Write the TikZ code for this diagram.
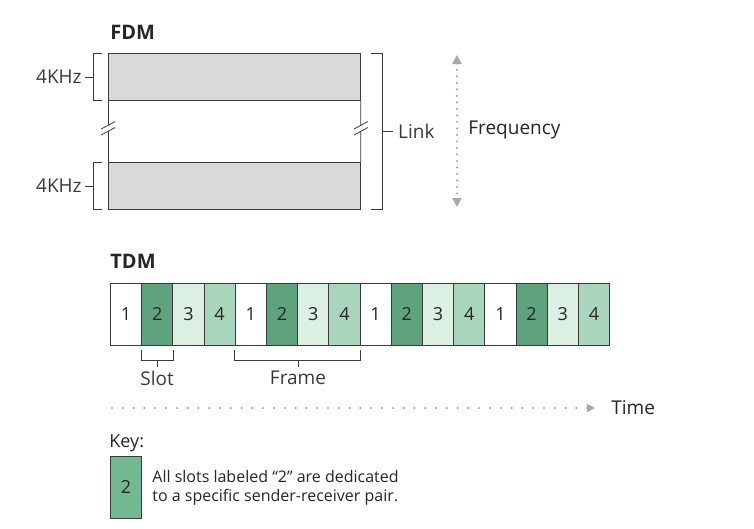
\documentclass[tikz,border=0pt]{standalone}
\usepackage{fontspec}
\setmainfont{Open Sans}
\usetikzlibrary{positioning,calc,arrows.meta}

\definecolor{linegray}{HTML}{3A3A3A}
\definecolor{bandgray}{HTML}{D9D9D9}
\definecolor{dotgray}{HTML}{A8A8A8}
\definecolor{gdark}{HTML}{5FA27E}
\definecolor{glight}{HTML}{DCEFE3}
\definecolor{gmid}{HTML}{A9D5BD}
\definecolor{gkey}{HTML}{72B890}

\tikzset{
  band/.style={draw=linegray,fill=bandgray,minimum width=252pt,minimum height=47pt,anchor=north west},
  slotbox/.style={draw=linegray,minimum width=31.2pt,minimum height=62pt,anchor=north west,
    font=\fontsize{18}{18}\selectfont},
  dotline/.style={dotgray,line width=2.4pt,line cap=round,dash pattern=on 0pt off 6.5pt},
  tip/.style={-{Triangle[length=8pt,width=8pt]}},
  heading/.style={anchor=base west,font=\bfseries\fontsize{20}{20}\selectfont},
}

\begin{document}
\begin{tikzpicture}[x=1pt,y=-1pt,every node/.style={inner sep=0pt},line width=.8pt,
  font=\fontsize{19}{19}\selectfont,color=black!85]
  \useasboundingbox (0,0) rectangle (754,528);

  % FDM
  \node[heading] at (110,39) (fdm) {FDM};
  \node[band] at (108,53)  (hi) {};
  \node[band] at (108,162) (lo) {};
  \coordinate (bl) at ($(hi.south west)!.45!(lo.north west)$);
  \coordinate (br) at ($(hi.south east)!.45!(lo.north east)$);
  \draw[linegray] (hi.south west) -- ($(bl)+(0,-3)$) ($(bl)+(0,3)$) -- (lo.north west);
  \draw[linegray] (hi.south east) -- ($(br)+(0,-3)$) ($(br)+(0,3)$) -- (lo.north east);
  \draw[linegray] ($(bl)+(-7,.75)$) -- ++(14,-7.5) ($(bl)+(-7,6.75)$) -- ++(14,-7.5);
  \draw[linegray] ($(br)+(-7,.75)$) -- ++(14,-7.5) ($(br)+(-7,6.75)$) -- ++(14,-7.5);

  % brackets
  \draw[linegray] ([xshift=-6pt]hi.north west) -- ++(-9,0) |- ([xshift=-6pt]hi.south west);
  \draw[linegray] ([xshift=-6pt]lo.north west) -- ++(-9,0) |- ([xshift=-6pt]lo.south west);
  \draw[linegray] ([xshift=-15pt]hi.west) -- ++(-8,0) node[left=3pt] (khz1) {4KHz};
  \draw[linegray] ([xshift=-15pt]lo.west) -- ++(-8,0) node[left=3pt] (khz2) {4KHz};
  \draw[linegray] ([xshift=10pt]hi.north east) -- ++(12,0) |- ([xshift=10pt]lo.south east);
  \coordinate (lk) at ($(hi.north east)!.5!(lo.south east)+(22,0)$);
  \draw[linegray] (lk) -- ++(10,0) node[right=5pt] (link) {Link};

  \coordinate (ftop) at (457,55);
  \coordinate (fbot) at (457,207);
  \draw[dotline,{Triangle[length=9pt,width=9pt]}-{Triangle[length=9pt,width=9pt]}] (ftop) -- (fbot);
  \node[anchor=west] at (468,130) (freq) {Frequency};

  % TDM
  \node[heading] at (110,268) (tdm) {TDM};
  \foreach \i/\c in {1/white,2/gdark,3/glight,4/gmid}
    \foreach \f in {0,...,3} {
      \pgfmathtruncatemacro\n{4*\f+\i}
      \node[slotbox,fill=\c] at ({110+(\n-1)*31.2},283) (s\n) {\i};
    }
  \draw[linegray] ($(s2.south west)+(0,4)$) -- ++(0,11) -| ($(s2.south east)+(0,4)$);
  \draw[linegray] ($(s2.south)+(0,15)$) -- ++(0,6) node[below=4pt] (slot) {Slot};
  \draw[linegray] ($(s5.south west)+(0,4)$) -- ++(0,11) -| ($(s8.south east)+(0,4)$);
  \draw[linegray] ($(s6.south east)+(0,15)$) -- ++(0,6) node[below=4pt] (frame) {Frame};

  \coordinate (tstart) at (112,408);
  \node[anchor=west] at (611,408) (time) {Time};
  \draw[dotline,dash pattern=on 0pt off 10.8pt,tip] (tstart) -- ([xshift=-16pt]time.west);

  % key
  \node[anchor=base west,font=\fontsize{18}{18}\selectfont] at (109,447) (key) {Key:};
  \node[slotbox,fill=gkey] at (110,456) (keybox) {2};
  \node[right=10pt of keybox,align=left,font=\fontsize{16}{19}\selectfont] (keytxt)
    {All slots labeled ``2'' are dedicated\\to a specific sender-receiver pair.};
\end{tikzpicture}
\end{document}
